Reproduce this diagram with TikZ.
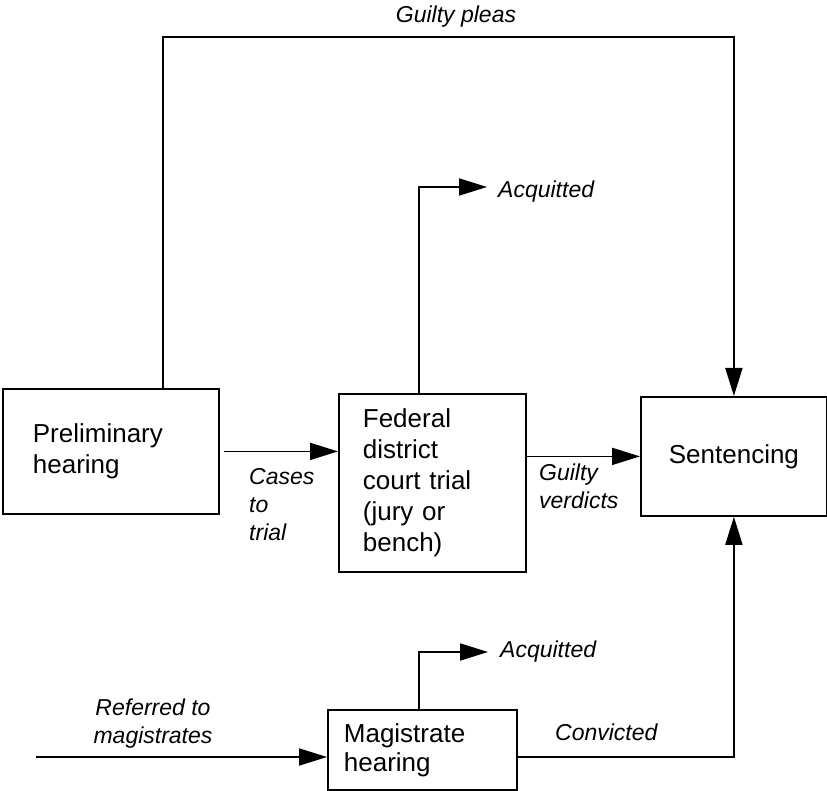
\documentclass[tikz,border=0pt]{standalone}
\usepackage{fontspec}
\setmainfont{Liberation Sans}
\usetikzlibrary{arrows.meta}

\begin{document}
\begin{tikzpicture}[x=1pt,y=-1pt,
    box/.style={draw,line width=1.8pt,font=\fontsize{26}{31}\selectfont,align=left,inner ysep=0pt,anchor=north west},
    lbl/.style={font=\fontsize{23}{28}\selectfont\itshape,inner sep=0pt,align=left},
    conn/.style={line width=1.8pt,-{Triangle[length=28pt,width=17pt]}}]
      \useasboundingbox (0,0) rectangle (827,791);
      % boxes
      \node[box,text width=156pt,inner xsep=30pt,minimum height=125pt](prelim) at (2,388) {Preliminary\\hearing};
      \node[box,text width=139pt,inner xsep=24pt,minimum height=178pt](fed) at (338,393) {Federal\\district\\court trial\\(jury or\\bench)};
      \node[box,align=center,minimum width=186pt,minimum height=119pt](sent) at (640,396) {Sentencing};
      \node[box,text width=157pt,inner xsep=16pt,minimum height=80pt,font=\fontsize{26}{29}\selectfont](mag) at (327,709) {Magistrate\\hearing};
      % labels (base = last line)
      \node[lbl,anchor=base](pleas) at (456,23) {Guilty pleas};
      \node[lbl,anchor=base west](acqfed) at (498,198) {Acquitted};
      \node[lbl,anchor=base west](acqmag) at (500,657) {Acquitted};
      \node[lbl,anchor=base west](cases) at (249,540) {Cases\\to\\trial};
      \node[lbl,anchor=base west](verdicts) at (539,508) {Guilty\\verdicts};
      \node[lbl,anchor=base west](convicted) at (555,740) {Convicted};
      \node[lbl,anchor=base,align=center](referred) at (153,743) {Referred to\\magistrates};
      % corner points
      \coordinate(pleatop) at (163,37);
      \coordinate(fedup) at (419,187);
      \coordinate(magup) at (419,652);
      \coordinate(convline) at (0,757);
      \coordinate(refin) at (36,757);
      % connectors
      \draw[conn,shorten <=4pt] (prelim.east) -- (prelim.east -| fed.west);
      \draw[conn] (fed.east |- sent.west) -- (sent.west);
      \draw[conn] (prelim.north -| pleatop) -- (pleatop) -| (sent.north);
      \draw[conn,shorten >=11pt] (fedup |- fed.north) |- (fedup -| acqfed.west);
      \draw[conn,shorten >=12pt] (magup |- mag.north) |- (magup -| acqmag.west);
      \draw[conn] (mag.east |- convline) -| (sent.south);
      \draw[conn] (refin) -- (refin -| mag.west);
    \end{tikzpicture}
\end{document}
